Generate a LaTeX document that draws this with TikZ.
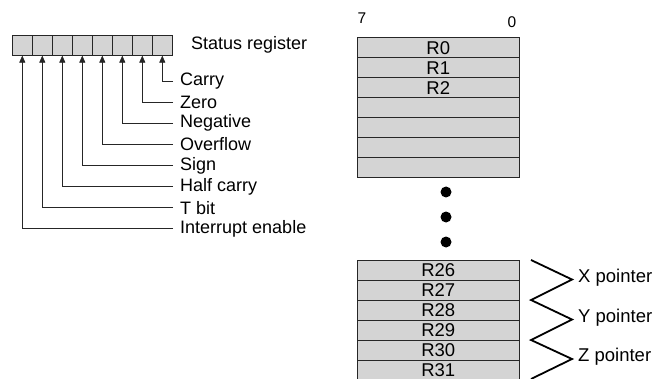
\documentclass[tikz,border=0pt]{standalone}
\usepackage{fontspec}
\setmainfont{Liberation Sans}
\usetikzlibrary{arrows.meta}

\begin{document}
\begin{tikzpicture}[x=1pt, y=-1pt,
	bitcell/.style={draw=black!85, fill=black!17, line width=0.6pt, minimum width=20pt, minimum height=20pt, inner sep=0pt, anchor=north west},
	regrow/.style={draw=black!85, fill=black!17, line width=0.6pt, minimum width=162pt, minimum height=20pt, inner sep=0pt, anchor=north west, font=\fontsize{18.5}{18.5}\selectfont},
	flaglabel/.style={anchor=west, inner xsep=7pt, inner ysep=0pt, font=\fontsize{18}{18}\selectfont},
	flagline/.style={-{Triangle[length=7pt, width=6pt]}, line width=0.6pt, color=black!85},
	ptrlabel/.style={anchor=west, inner sep=0pt, font=\fontsize{18.5}{18.5}\selectfont},
	bitnum/.style={inner sep=0pt, font=\fontsize{15.5}{15.5}\selectfont},
	zigzag/.style={line width=1.8pt, line join=miter}]
			%%%%% START %%%%%
			
			\useasboundingbox (0, 0) rectangle (668, 379);
			
			% status register, bit 7 on the left
			\foreach \i in {0,...,7}
				\node[bitcell] (b\i) at ({12+20*(7-\i)}, 35) {};
			\node[anchor=west, inner sep=0pt, font=\fontsize{18}{18}\selectfont] (sreg) at (191, 45) {Status register};
			
			\foreach \i/\name/\txt in {0/carry/Carry, 1/zero/Zero, 2/negative/Negative, 3/overflow/Overflow, 4/sign/Sign, 5/halfcarry/Half carry, 6/tbit/T bit, 7/intenable/Interrupt enable}
			{
				\node[flaglabel] (\name) at (173, {81+21.1*\i}) {\txt};
				\draw[flagline] (\name.west) -| (b\i.south);
			}
			
			% register file
			\node[bitnum] (msb) at (362, 18) {7};
			\node[bitnum] (lsb) at (512, 22) {0};
			
			\foreach \i/\txt in {0/R0, 1/R1, 2/R2, 3/, 4/, 5/, 6/}
				\node[regrow] (row\i) at (357, {37.5+20*\i}) {\raisebox{-1.5pt}{\txt}};
			
			\foreach \y in {192, 217, 242}
				\fill (446, \y) circle (5.5);
			
			\foreach \i/\txt in {0/R26, 1/R27, 2/R28, 3/R29, 4/R30, 5/R31}
				\node[regrow] (\txt) at (357, {260+20*\i}) {\raisebox{-1pt}{\txt}};
			
			% pointer pairs
			\draw[zigzag] (531, 260) -- (572, 279.5) -- (531, 300) -- (572, 319.5) -- (531, 340) -- (572, 359) -- (531, 379);
			\node[ptrlabel] (xptr) at (578, 278) {X pointer};
			\node[ptrlabel] (yptr) at (578, 318) {Y pointer};
			\node[ptrlabel] (zptr) at (578, 357) {Z pointer};
			
			%%%%% END %%%%%
		\end{tikzpicture}
\end{document}
